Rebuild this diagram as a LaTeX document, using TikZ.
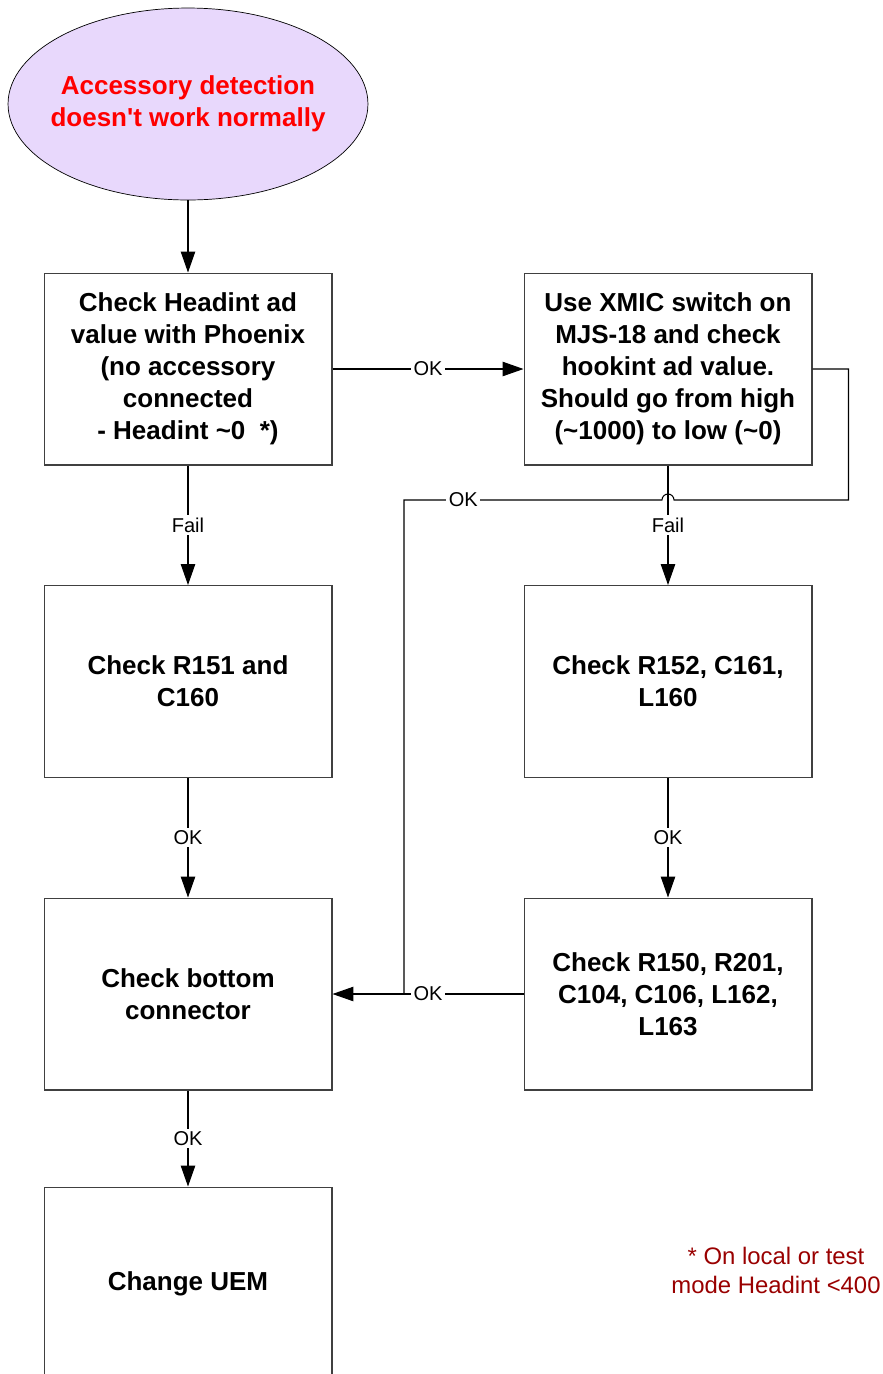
\documentclass[tikz,border=0pt]{standalone}
\usepackage{fontspec}
\setmainfont{Liberation Sans}
\usetikzlibrary{arrows.meta,shapes.geometric,positioning}
\definecolor{startfill}{RGB}{232,216,252}
\definecolor{notered}{RGB}{153,0,0}
\definecolor{boxline}{RGB}{64,64,64}

\tikzset{
  stepbox/.style={draw=boxline, line width=0.6pt, minimum width=5.76cm, minimum height=3.84cm,
    align=center, font=\fontsize{14.8}{18.2}\selectfont\bfseries},
  link/.style={line width=0.6pt, -{Triangle[length=0.42cm,width=0.29cm]}},
  tag/.style={fill=white, inner sep=1.5pt, font=\fontsize{11.4}{13}\selectfont},
}

\begin{document}
\begin{tikzpicture}[x=0.02cm,y=-0.02cm]
  \clip (0,0) rectangle (883,1374);

  \node[ellipse, draw, fill=startfill, inner sep=0pt, minimum width=7.2cm, minimum height=3.84cm]
    (start) at (188,104) {};
  \node[align=center, text=red, font=\fontsize{14.8}{18.2}\selectfont\bfseries]
    (starttext) at (start.center) {Accessory detection\\doesn\textquotesingle t work normally};

  \node[stepbox] (headint) at (188,369) {Check Headint ad\\value with Phoenix\\(no accessory\\connected\\- Headint \textasciitilde0\ \ *)};
  \node[stepbox] (xmic) at (668,369) {Use XMIC switch on\\MJS-18 and check\\hookint ad value.\\Should go from high\\(\textasciitilde1000) to low (\textasciitilde0)};
  \node[stepbox] (rone) at (188,681.5) {Check R151 and\\C160};
  \node[stepbox] (rtwo) at (668,681.5) {Check R152, C161,\\L160};
  \node[stepbox] (conn) at (188,994) {Check bottom\\connector};
  \node[stepbox] (rthree) at (668,994) {Check R150, R201,\\C104, C106, L162,\\L163};
  \node[stepbox, minimum height=3.86cm] (uem) at (188,1283.5) {Change UEM};

  \node[align=center, text=notered, font=\fontsize{13.6}{16.4}\selectfont] (remark) at (776,1270.5) {* On local or test\\mode Headint <400};

  \draw[link] (start) -- (headint);
  \draw[link] (headint) -- node[tag] {OK} (xmic);
  \draw[link] (headint) -- node[tag] {Fail} (rone);
  \draw[link] (xmic) -- node[tag] {Fail} (rtwo);
  \draw[link] (rone) -- node[tag] {OK} (conn);
  \draw[link] (rtwo) -- node[tag] {OK} (rthree);
  \draw[link] (rthree) -- node[tag] {OK} (conn);
  \draw[link] (conn) -- node[tag] {OK} (uem);

  % loop back from the XMIC check, hopping over the Fail line
  \coordinate (joint) at (404,994);
  \draw[line width=0.6pt] (xmic.east) -- ++(36,0) |- (674,500) arc (0:-180:6)
    -- node[tag, pos=0.77] {OK} (404,500) -- (joint);

\end{tikzpicture}
\end{document}
